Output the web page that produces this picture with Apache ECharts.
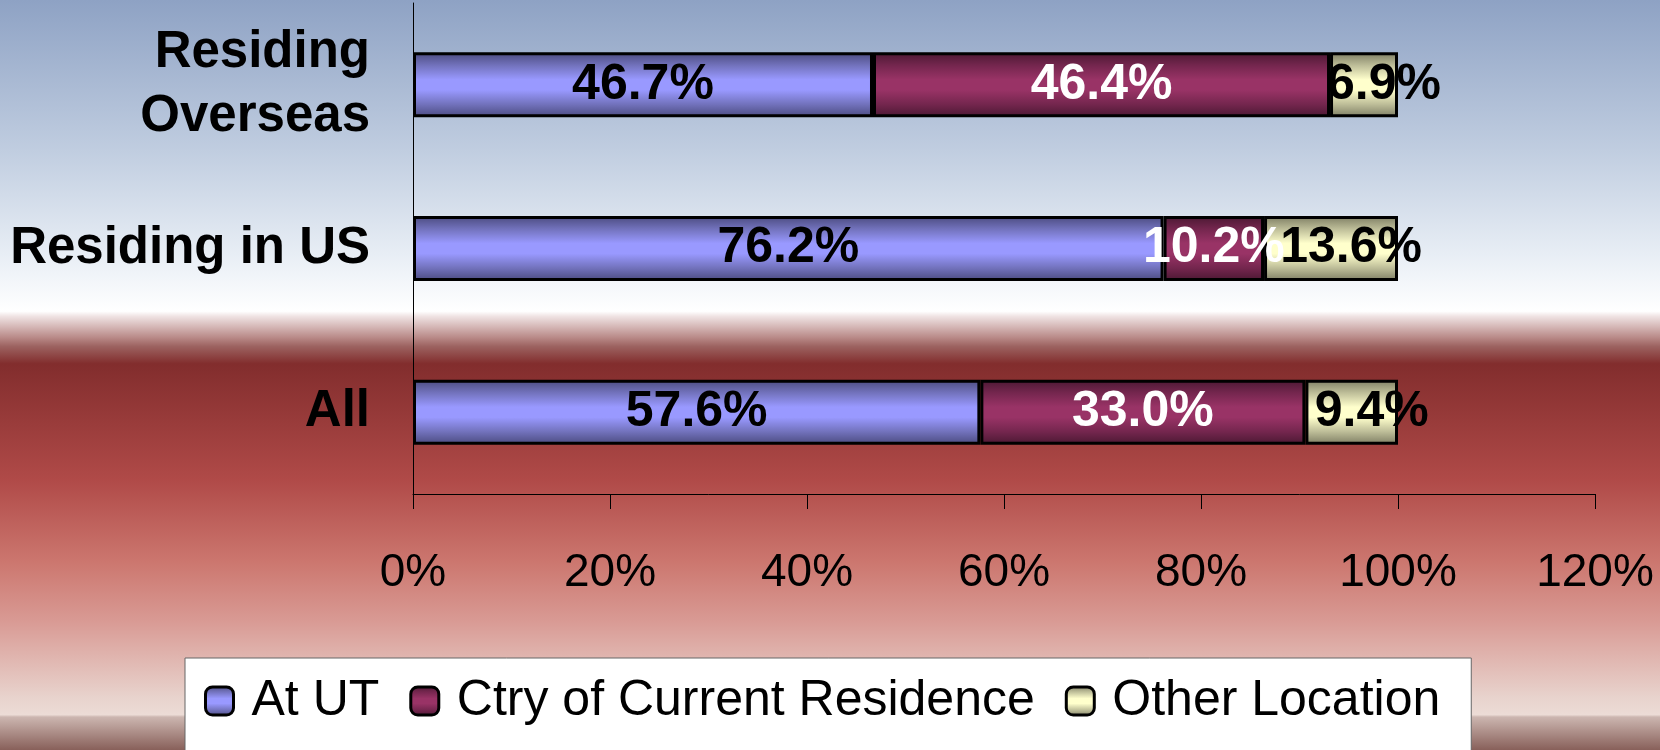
<!DOCTYPE html>
<html>
<head lang="en">
    <meta http-equiv="Content-Type" content="text/html; charset=UTF-8">
    <script src="https://cdn.jsdelivr.net/npm/echarts@6/dist/echarts.min.js" type="text/javascript"></script>
    <style>
        html, body { margin: 0; padding: 0; }
        #container { width: 1660px; height: 750px; }
    </style>
</head>
<body>
<div id="container"></div>
<script>
/**=======数据=====**/
var categories = ['Residing\nOverseas', 'Residing in US', 'All'];
var seriesNames = ['At UT', 'Ctry of Current Residence', 'Other Location'];
var atUT = [46.7, 76.2, 57.6];
var ctryResidence = [46.4, 10.2, 33.0];
var otherLocation = [6.9, 13.6, 9.4];
var xTicks = [0, 20, 40, 60, 80, 100, 120];

var fontName = '"Liberation Sans", Arial, sans-serif';

// 条纹渐变（上下暗，中间亮）
function stripeFill(edge, mid, light) {
    return new echarts.graphic.LinearGradient(0, 0, 0, 1, [
        { offset: 0, color: edge },
        { offset: 0.2, color: mid },
        { offset: 0.42, color: light },
        { offset: 0.58, color: light },
        { offset: 0.8, color: mid },
        { offset: 1, color: edge }
    ]);
}

var fills = [
    stripeFill('#4a4a7e', '#7272bc', '#9999ff'),
    stripeFill('#4a1832', '#74264e', '#993366'),
    stripeFill('#7c7c62', '#bdbd98', '#ffffcc')
];
var labelColors = ['#000000', '#ffffff', '#000000'];
var labelOffsets = [[0, 0], [0, 0], [20, 0]];
var values = [atUT, ctryResidence, otherLocation];

var series = [];
for (var i = 0; i < seriesNames.length; i++) {
    series.push({
        name: seriesNames[i],
        type: 'bar',
        stack: 'total',
        barWidth: 65,
        data: values[i],
        itemStyle: {
            color: fills[i],
            borderColor: '#000000',
            borderWidth: 3
        },
        label: {
            show: true,
            position: 'inside',
            offset: labelOffsets[i],
            color: labelColors[i],
            fontFamily: fontName,
            fontWeight: 'bold',
            fontSize: 50,
            formatter: function (p) { return p.value.toFixed(1) + '%'; }
        },
        emphasis: { disabled: true }
    });
}

// 背景渐变
var bgFill = new echarts.graphic.LinearGradient(0, 0, 0, 1, [
    { offset: 0, color: '#8ea2c4' },
    { offset: 0.2, color: '#c0cde0' },
    { offset: 0.34, color: '#e8eef5' },
    { offset: 0.415, color: '#ffffff' },
    { offset: 0.422, color: '#efe2e2' },
    { offset: 0.45, color: '#b98a88' },
    { offset: 0.462, color: '#9c6260' },
    { offset: 0.485, color: '#822d2d' },
    { offset: 0.64, color: '#b04a48' },
    { offset: 0.75, color: '#cc776f' },
    { offset: 0.83, color: '#d99b95' },
    { offset: 0.93, color: '#e8d3cd' },
    { offset: 0.953, color: '#ecdcd6' },
    { offset: 0.956, color: '#ccb6b0' },
    { offset: 1, color: '#88605a' }
]);

var myChart = echarts.init(document.getElementById('container'));
var option = {
    animation: false,
    graphic: [{
        type: 'rect',
        silent: true,
        z: -100,
        shape: { x: 0, y: 0, width: 1660, height: 750 },
        style: { fill: bgFill }
    }],
    grid: {
        left: 413,
        right: 65,
        top: 3,
        bottom: 256,
        containLabel: false
    },
    legend: {
        data: seriesNames,
        left: 185,
        top: 658,
        padding: [15, 31, 60, 19],
        backgroundColor: '#ffffff',
        borderColor: '#666666',
        borderWidth: 1,
        itemWidth: 28,
        itemHeight: 28,
        itemGap: 30,
        icon: 'roundRect',
        selectedMode: false,
        itemStyle: { borderColor: '#000000', borderWidth: 3 },
        textStyle: {
            fontFamily: fontName,
            fontSize: 50,
            lineHeight: 56,
            color: '#000000',
            padding: [0, 0, 0, 13]
        }
    },
    xAxis: {
        type: 'value',
        min: xTicks[0],
        max: xTicks[xTicks.length - 1],
        interval: 20,
        splitLine: { show: false },
        axisLine: { show: true, lineStyle: { color: '#000000', width: 1 } },
        axisTick: { show: true, length: 15, lineStyle: { color: '#000000' } },
        axisLabel: {
            margin: 56,
            color: '#000000',
            fontFamily: fontName,
            fontSize: 46,
            formatter: '{value}%'
        }
    },
    yAxis: {
        type: 'category',
        inverse: true,
        data: categories,
        axisLine: { show: true, lineStyle: { color: '#000000', width: 1 } },
        axisTick: { show: false },
        axisLabel: {
            margin: 43,
            color: '#000000',
            fontFamily: fontName,
            fontWeight: 'bold',
            fontSize: 51,
            lineHeight: 64,
            align: 'right'
        }
    },
    series: series
};
myChart.setOption(option);
</script>
</body>
</html>
